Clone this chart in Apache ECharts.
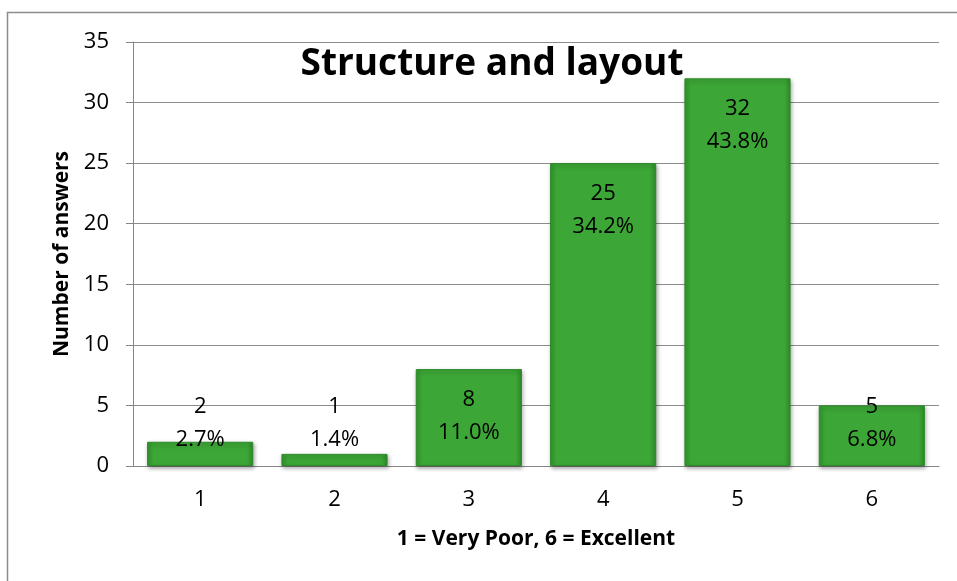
<!DOCTYPE html>
<html>
<head>
<meta charset="utf-8">
<script src="https://cdn.jsdelivr.net/npm/echarts@6/dist/echarts.min.js"></script>
<style>
  html, body { margin: 0; padding: 0; background: #fff; }
  #chart { width: 957px; height: 581px; }
</style>
</head>
<body>
<div id="chart"></div>
<script>
const categories = ['1', '2', '3', '4', '5', '6']
const answers = [2, 1, 8, 25, 32, 5]
const percents = ['2.7%', '1.4%', '11.0%', '34.2%', '43.8%', '6.8%']
const yTicks = [0, 5, 10, 15, 20, 25, 30, 35]

const font = 'Open Sans, Noto Sans, sans-serif'
const chart = echarts.init(document.getElementById('chart'))

// short bars: Excel pushes the label up above the bar
const barData = answers.map(function(v, i) {
  const small = v < 6
  return {
    value: v,
    label: small
      ? { position: 'insideBottom', distance: 10 }
      : { position: 'insideTop', distance: 14 }
  }
})

const option = {
  animation: false,
  backgroundColor: '#fff',
  graphic: [{
    type: 'rect',
    shape: { x: 7.5, y: 12.5, width: 980, height: 600 },
    style: { fill: 'none', stroke: '#8c8c8c', lineWidth: 1.5 },
    silent: true,
    z: -10
  }],
  title: {
    text: 'Structure and layout',
    left: 487,
    top: 41,
    textAlign: 'center',
    textStyle: { fontFamily: font, fontSize: 37, fontWeight: 'bold', color: '#000' },
    z: 10
  },
  grid: { left: 133, right: 18, top: 42, bottom: 115 },
  xAxis: {
    type: 'category',
    data: categories,
    name: '1 = Very Poor, 6 = Excellent',
    nameLocation: 'middle',
    nameGap: 63,
    nameTextStyle: { fontFamily: font, fontSize: 21, fontWeight: 'bold', color: '#000' },
    axisLine: { lineStyle: { color: '#868686', width: 1 } },
    axisTick: { length: 7, lineStyle: { color: '#868686' } },
    axisLabel: { fontFamily: font, fontSize: 22, color: '#000', margin: 23 }
  },
  yAxis: {
    type: 'value',
    min: yTicks[0],
    max: yTicks[yTicks.length - 1],
    interval: 5,
    name: 'Number of answers',
    nameLocation: 'middle',
    nameGap: 59,
    nameTextStyle: { fontFamily: font, fontSize: 21, fontWeight: 'bold', color: '#000' },
    axisLine: { show: true, lineStyle: { color: '#868686', width: 1 } },
    axisTick: { show: true, length: 7, lineStyle: { color: '#868686' } },
    axisLabel: { fontFamily: font, fontSize: 22, color: '#000', margin: 24 },
    splitLine: { lineStyle: { color: '#8c8c8c', width: 1 } }
  },
  series: [{
    type: 'bar',
    data: barData,
    barCategoryGap: '21%',
    itemStyle: {
      color: {
        type: 'linear', x: 0, y: 0, x2: 1, y2: 0,
        colorStops: [
          { offset: 0, color: '#319a2c' },
          { offset: 0.06, color: '#3ca636' },
          { offset: 0.94, color: '#3ca636' },
          { offset: 1, color: '#2e8e29' }
        ]
      },
      borderColor: '#2c8a28',
      borderWidth: 1,
      shadowColor: 'rgba(0,0,0,0.35)',
      shadowBlur: 4,
      shadowOffsetX: 1,
      shadowOffsetY: 2
    },
    label: {
      show: true,
      fontFamily: font,
      fontSize: 22,
      lineHeight: 33,
      color: '#000',
      formatter: function(p) {
        return p.value + '\n' + percents[p.dataIndex]
      }
    }
  }]
}
chart.setOption(option)
</script>
</body>
</html>
